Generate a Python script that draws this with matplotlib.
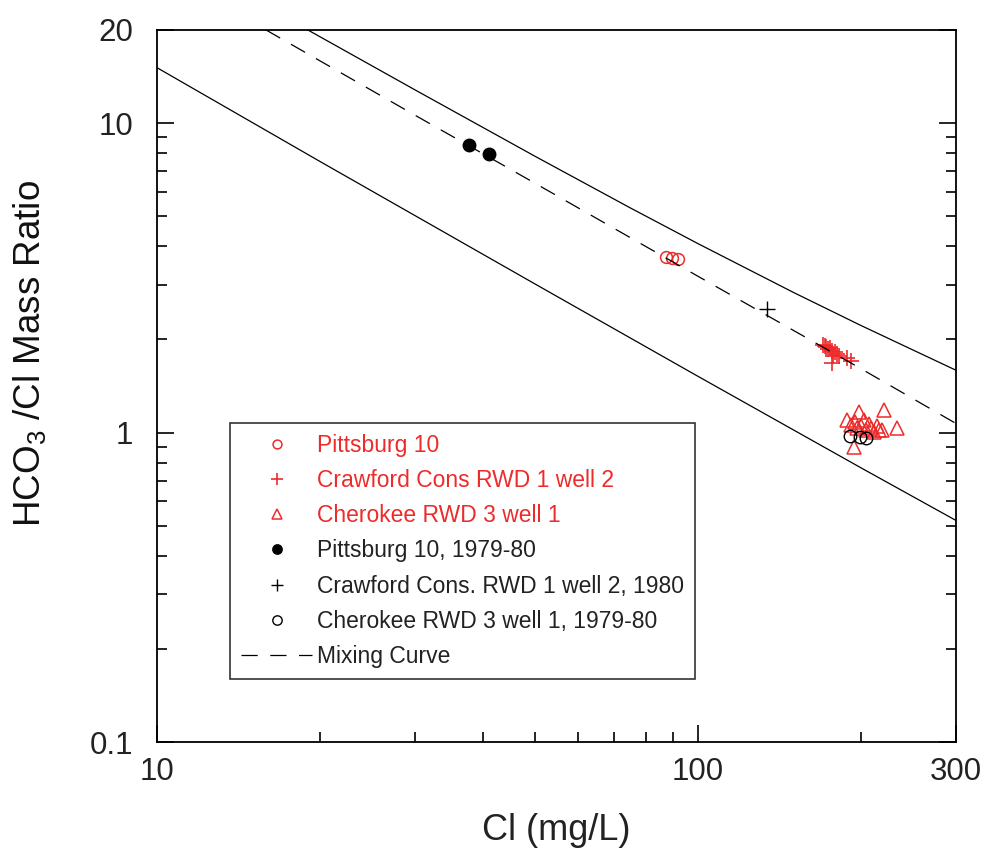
import matplotlib
matplotlib.use('Agg')
import matplotlib.pyplot as plt
from matplotlib.ticker import NullFormatter, FixedFormatter, FixedLocator

plt.rcParams['font.family'] = ['Liberation Sans', 'DejaVu Sans']
plt.rcParams['mathtext.fontset'] = 'custom'
plt.rcParams['mathtext.rm'] = 'Liberation Sans'
plt.rcParams['mathtext.default'] = 'rm'

RED = '#ee2b2b'

# Pittsburg 10 (red open circles)
pitt_cl = [87.4, 89.7, 92.0]
pitt_ratio = [3.68, 3.66, 3.65]

# Crawford Cons RWD 1 well 2 (red plus)
craw_cl = [170.4, 172.3, 173.8, 175.3, 176.8, 179.0, 180.6, 177.6, 182.2, 176.8, 188.8, 192.0, 171.5]
craw_ratio = [1.919, 1.891, 1.863, 1.877, 1.835, 1.822, 1.795, 1.769, 1.769, 1.679, 1.742, 1.704, 1.90]

# Cherokee RWD 3 well 1 (red triangles)
cher_cl = [188.7, 192.0, 195.3, 198.6, 197.0, 200.3, 202.9, 204.6, 207.3, 209.1,
           211.7, 214.4, 216.2, 219.0, 220.9, 233.5, 194.5]
cher_ratio = [1.098, 1.058, 1.082, 1.166, 1.035, 1.050, 1.098, 1.020, 1.066, 1.035,
              1.004, 1.050, 1.020, 1.020, 1.183, 1.035, 0.899]

# Historical samples (black)
pitt_old_cl = [37.8, 41.0]
pitt_old_ratio = [8.5, 7.95]
craw_old_cl = [134.3]
craw_old_ratio = [2.51]
cher_old_cl = [191.1, 199.5, 204.6]
cher_old_ratio = [0.975, 0.968, 0.960]

# Bounding curves and mixing curve
upper_cl = [19, 30, 50, 75, 100, 150, 200, 300]
upper_ratio = [20, 12.8, 7.81, 5.32, 4.08, 2.84, 2.22, 1.59]
lower_cl = [10, 20, 50, 100, 200, 300]
lower_ratio = [15.1, 7.52, 3.02, 1.52, 0.77, 0.52]
mix_cl = [15.9, 30, 50, 100, 200, 300]
mix_ratio = [20, 10.6, 6.39, 3.20, 1.61, 1.07]

fig = plt.figure(figsize=(9.88, 8.49), dpi=100)
ax = fig.add_axes([0.159, 0.126, 0.8086, 0.8387])

ax.plot(upper_cl, upper_ratio, color='black', lw=0.9)
ax.plot(lower_cl, lower_ratio, color='black', lw=0.9)

ax.plot(pitt_cl, pitt_ratio, 'o', mfc='none', mec=RED, ms=8.5, mew=1.1, label='Pittsburg 10')
ax.plot(craw_cl, craw_ratio, '+', color=RED, ms=11, mew=1.2, label='Crawford Cons RWD 1 well 2')
ax.plot(cher_cl, cher_ratio, '^', mfc='none', mec=RED, ms=10, mew=1.1, label='Cherokee RWD 3 well 1')
ax.plot(pitt_old_cl, pitt_old_ratio, 'o', color='black', ms=9, label='Pittsburg 10, 1979-80')
ax.plot(craw_old_cl, craw_old_ratio, '+', color='black', ms=11, mew=1.0, label='Crawford Cons. RWD 1 well 2, 1980')
ax.plot(cher_old_cl, cher_old_ratio, 'o', mfc='none', mec='black', ms=9, mew=1.0, label='Cherokee RWD 3 well 1, 1979-80')
ax.plot(mix_cl, mix_ratio, color='black', lw=0.9, dashes=(13, 10), label='Mixing Curve')

ax.set_xscale('log')
ax.set_yscale('log')
ax.set_xlim(10, 300)
ax.set_ylim(0.1, 20)

ax.xaxis.set_major_locator(FixedLocator([10, 100, 300]))
ax.xaxis.set_major_formatter(FixedFormatter(['10', '100', '300']))
ax.xaxis.set_minor_locator(FixedLocator([20, 30, 40, 50, 60, 70, 80, 90, 200]))
ax.xaxis.set_minor_formatter(NullFormatter())
ax.yaxis.set_major_locator(FixedLocator([0.1, 1, 10, 20]))
ax.yaxis.set_major_formatter(FixedFormatter(['0.1', '1', '10', '20']))
ax.yaxis.set_minor_locator(FixedLocator([0.2, 0.3, 0.4, 0.5, 0.6, 0.7, 0.8, 0.9,
                                         2, 3, 4, 5, 6, 7, 8, 9]))
ax.yaxis.set_minor_formatter(NullFormatter())

ax.tick_params(which='both', direction='in', top=False, right=True, labelsize=22.5,
               labelcolor='#222222')
ax.tick_params(axis='x', which='both', pad=11)
ax.tick_params(axis='y', which='both', pad=17)
ax.tick_params(which='major', length=12, width=1.2)
ax.tick_params(which='minor', length=7, width=1.2)
for s in ax.spines.values():
    s.set_linewidth(1.3)

ax.set_xlabel('Cl (mg/L)', fontsize=26, color='#222222')
ax.xaxis.set_label_coords(0.5, -0.1)
ax.set_ylabel('HCO$_3$ /Cl Mass Ratio', fontsize=26.5, color='#111111')
ax.yaxis.set_label_coords(-0.136, 0.545)

leg = ax.legend(loc='upper left', bbox_to_anchor=(0.2328, 0.5018),
                bbox_transform=fig.transFigure, fontsize=16.5, frameon=True,
                fancybox=False, edgecolor='black', handlelength=3.1,
                handletextpad=0.2, labelspacing=0.53, markerscale=0.75,
                borderpad=0.48, borderaxespad=0)
leg.get_frame().set_linewidth(1.2)
for i, t in enumerate(leg.get_texts()):
    t.set_color(RED if i < 3 else '#222222')

fig.savefig('out.png', dpi=100)
